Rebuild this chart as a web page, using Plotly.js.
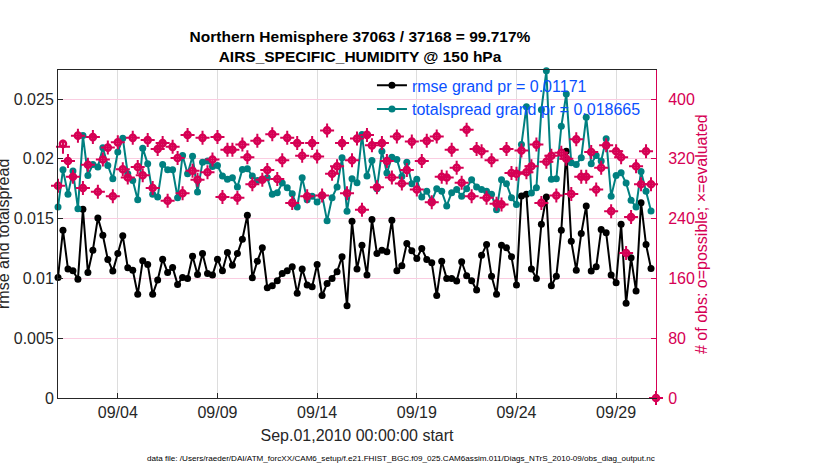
<!DOCTYPE html>
<html>
<head>
<meta charset="utf-8">
<script src="https://cdn.plot.ly/plotly-3.0.1.min.js"></script>
<style>html,body{margin:0;padding:0;background:#fff;}#chart{width:830px;height:470px;}</style>
</head>
<body>
<div id="chart"></div>
<script>
// 6-hourly bins starting Sep.01,2010 00:00:00
const startTime = '2010-09-01T00:00:00Z';
const binHours = 6;

const rmse = [
0.01008,0.01403,0.01078,0.01064,0.00992,0.01578,0.01050,0.01236,0.01506,0.01361,
0.01158,0.01061,0.01208,0.01356,0.01089,0.01069,0.00867,0.01147,0.01117,0.00867,
0.00986,0.01161,0.01050,0.01092,0.00950,0.01008,0.01000,0.01186,0.01033,0.01208,
0.01042,0.01028,0.01161,0.01064,0.01217,0.01111,0.01208,0.01328,0.01528,0.01006,
0.01144,0.01256,0.00922,0.00939,0.00981,0.01042,0.01064,0.01097,0.00875,0.01078,
0.00944,0.00931,0.01117,0.00856,0.00958,0.01000,0.01056,0.01181,0.00772,0.01478,
0.01078,0.01278,0.01028,0.01492,0.01208,0.01236,0.01222,0.01486,0.01064,0.01106,
0.01292,0.01231,0.01167,0.01250,0.01158,0.01131,0.00856,0.01144,0.01000,0.01000,
0.00978,0.01139,0.01022,0.00981,0.00903,0.01194,0.01283,0.01019,0.00867,0.01278,
0.01256,0.01181,0.00944,0.01689,0.01703,0.01078,0.01000,0.01453,0.01681,0.00939,
0.01019,0.01403,0.02064,0.01311,0.01069,0.01375,0.01606,0.01061,0.01097,0.01408,
0.01381,0.01028,0.00964,0.01453,0.00792,0.01172,0.00894,0.01633,0.01283,0.01083,
null];

const totalspread = [
0.01597,0.01908,0.01703,0.01897,0.01583,0.02194,0.01861,0.01953,0.01931,0.02092,
0.01944,0.01833,0.02056,0.02172,0.01875,0.01819,0.01658,0.02089,0.01958,0.01703,
0.01681,0.01953,0.01908,0.01908,0.01675,0.02028,0.01875,0.02022,0.01722,0.01972,
0.01981,0.01936,0.01944,0.01856,0.01828,0.01842,0.01764,0.01911,0.01917,0.01856,
0.01819,0.01828,0.01842,0.01703,0.01717,0.01797,0.01758,0.01708,0.01597,0.01842,
0.01658,0.01686,0.01639,0.01694,0.01481,0.01675,0.01764,0.02008,0.01561,0.01833,
0.01800,0.02203,0.01856,0.01986,0.01750,0.02064,0.01881,0.02014,0.01994,0.01853,
0.01972,0.01792,0.01828,0.01681,0.01728,0.01647,0.01750,0.01728,0.01606,0.01717,
0.01744,0.01686,0.01750,0.01825,0.01764,0.01744,0.01728,0.01703,0.01575,0.01825,
0.01792,0.01675,0.01617,0.02119,0.02436,0.01714,0.01758,0.02411,0.02736,0.01828,
0.01833,0.02272,0.02542,0.01967,0.01953,0.02008,0.02347,0.01958,0.02028,0.01981,
0.02167,0.01686,0.01861,0.01883,0.01797,0.01653,0.01597,0.01894,0.01728,0.01564,
null];

const nobsPossible = [
284,340,317,296,351,281,312,349,276,319,
335,270,342,306,295,348,309,298,345,281,
333,341,264,336,321,274,352,304,292,348,
302,319,349,269,332,332,268,339,322,286,
344,292,305,353,293,318,348,261,341,324,
270,341,323,271,358,300,310,341,274,318,
347,252,352,338,282,341,317,295,350,287,
305,343,279,317,344,262,350,296,295,332,
308,288,359,270,333,330,268,318,260,259,
333,301,300,331,302,310,339,261,316,324,
271,328,320,273,346,296,296,329,279,308,
338,250,330,322,194,242,310,286,330,286,
0];

const nobsEvaluated = [
284,336,317,296,351,281,312,349,276,319,
335,270,342,306,295,348,309,298,345,281,
333,341,264,336,321,274,352,304,292,348,
302,319,349,269,332,332,268,339,322,286,
344,292,305,353,293,318,348,261,341,324,
270,341,323,271,358,300,310,341,274,318,
347,252,352,338,282,341,317,295,350,287,
305,343,279,317,344,262,350,296,295,332,
308,288,359,270,333,330,268,318,260,259,
333,301,300,331,302,310,339,261,316,324,
271,328,320,273,346,296,296,329,279,308,
338,250,330,322,194,242,310,286,330,286,
0];

const xTickVals = ['2010-09-04','2010-09-09','2010-09-14','2010-09-19','2010-09-24','2010-09-29'];
const xTickText = ['09/04','09/09','09/14','09/19','09/24','09/29'];
const yTickVals = [0,0.005,0.01,0.015,0.02,0.025];
const yTickText = ['0','0.005','0.01','0.015','0.02','0.025'];
const y2TickVals = [0,80,160,240,320,400];
const y2TickText = ['0','80','160','240','320','400'];

const legendRmse = 'rmse grand pr = 0.01171';
const legendSpread = 'totalspread grand pr = 0.018665';
const titleLine1 = 'Northern Hemisphere 37063 / 37168 = 99.717%';
const titleLine2 = 'AIRS_SPECIFIC_HUMIDITY @ 150 hPa';
const footer = 'data file: /Users/raeder/DAI/ATM_forcXX/CAM6_setup/f.e21.FHIST_BGC.f09_025.CAM6assim.011/Diags_NTrS_2010-09/obs_diag_output.nc';

const t0 = Date.parse(startTime);
const times = nobsPossible.map((_, i) => new Date(t0 + i * binHours * 3600000).toISOString().replace('Z',''));

const RED = 'rgb(214,0,84)';
const TEAL = 'rgb(0,128,128)';
const TXT = '#262626';
const FONT = 'Liberation Sans, Arial, Helvetica, sans-serif';

const traces = [
  {x: times, y: nobsPossible, yaxis: 'y2', type: 'scatter', mode: 'markers', showlegend: false,
   cliponaxis: false, hoverinfo: 'skip',
   marker: {symbol: 'circle-open', size: 6, color: RED, line: {color: RED, width: 2.6}}},
  {x: times, y: nobsEvaluated, yaxis: 'y2', type: 'scatter', mode: 'markers', showlegend: false,
   cliponaxis: false, hoverinfo: 'skip',
   marker: {symbol: 'cross-thin-open', size: 10, color: RED, line: {color: RED, width: 2}}},
  {x: times, y: rmse, type: 'scatter', mode: 'lines+markers', name: legendRmse, cliponaxis: false,
   line: {color: '#000', width: 2}, marker: {symbol: 'circle', size: 7, color: '#000'}},
  {x: times, y: totalspread, type: 'scatter', mode: 'lines+markers', name: legendSpread, cliponaxis: false,
   line: {color: TEAL, width: 2}, marker: {symbol: 'circle', size: 7, color: TEAL}}
];

const layout = {
  width: 830, height: 470,
  margin: {l: 58, r: 174, t: 70, b: 72},
  paper_bgcolor: '#fff', plot_bgcolor: '#fff',
  font: {family: FONT, color: TXT, size: 16},
  title: {text: '<b>' + titleLine1 + '</b><br><b>' + titleLine2 + '</b>',
          font: {family: FONT, size: 15.5, color: '#000'},
          xref: 'paper', x: 0.505, xanchor: 'center',
          yref: 'container', y: 1 - 42/470, yanchor: 'middle'},
  showlegend: true,
  legend: {x: 0.525, xanchor: 'left', y: 1.005, yanchor: 'top', bgcolor: 'rgba(0,0,0,0)',
           borderwidth: 0, font: {family: FONT, size: 16, color: 'rgb(10,80,255)'},
           itemwidth: 30, tracegroupgap: 0},
  xaxis: {type: 'date', range: ['2010-09-01 00:00:00', '2010-10-01 00:00:00'],
          tickmode: 'array', tickvals: xTickVals, ticktext: xTickText,
          ticks: 'inside', ticklen: 5, tickcolor: TXT, tickfont: {size: 16, color: TXT},
          showline: true, linecolor: TXT, linewidth: 1, mirror: true,
          showgrid: true, gridcolor: '#dddddd', gridwidth: 1, zeroline: false,
          title: {text: 'Sep.01,2010 00:00:00 start', font: {size: 16, color: TXT}, standoff: 9}},
  yaxis: {range: [0, 0.027425], tickmode: 'array', tickvals: yTickVals, ticktext: yTickText,
          ticks: 'inside', ticklen: 5, tickcolor: TXT, tickfont: {size: 16, color: TXT},
          showline: true, linecolor: TXT, linewidth: 1,
          showgrid: true, gridcolor: 'rgb(250,205,225)', gridwidth: 1, zeroline: false},
  yaxis2: {range: [0, 438.8], overlaying: 'y', side: 'right', tickmode: 'array',
           tickvals: y2TickVals, ticktext: y2TickText,
           ticks: 'inside', ticklen: 5, tickcolor: RED, tickfont: {size: 16, color: RED},
           ticklabelstandoff: 8,
           showline: true, linecolor: RED, linewidth: 1, showgrid: false, zeroline: false},
  annotations: [
    {text: 'rmse and totalspread', textangle: -90, xref: 'paper', yref: 'paper',
     x: (3 - 58) / 598, y: 0.5, xanchor: 'center', yanchor: 'middle', showarrow: false,
     font: {size: 16, color: TXT}},
    {text: '# of obs: o=possible; \u00d7=evaluated', textangle: -90, xref: 'paper', yref: 'paper',
     x: (701 - 58) / 598, y: 0.5, xanchor: 'center', yanchor: 'middle', showarrow: false,
     font: {size: 16, color: RED}},
    {text: footer, xref: 'paper', yref: 'paper', x: (401 - 58) / 598, y: (398 - 458) / 328,
     xanchor: 'center', yanchor: 'middle', showarrow: false, font: {size: 8.1, color: '#000'}}
  ]
};

Plotly.newPlot('chart', traces, layout, {displayModeBar: false, staticPlot: true});
</script>
</body>
</html>
